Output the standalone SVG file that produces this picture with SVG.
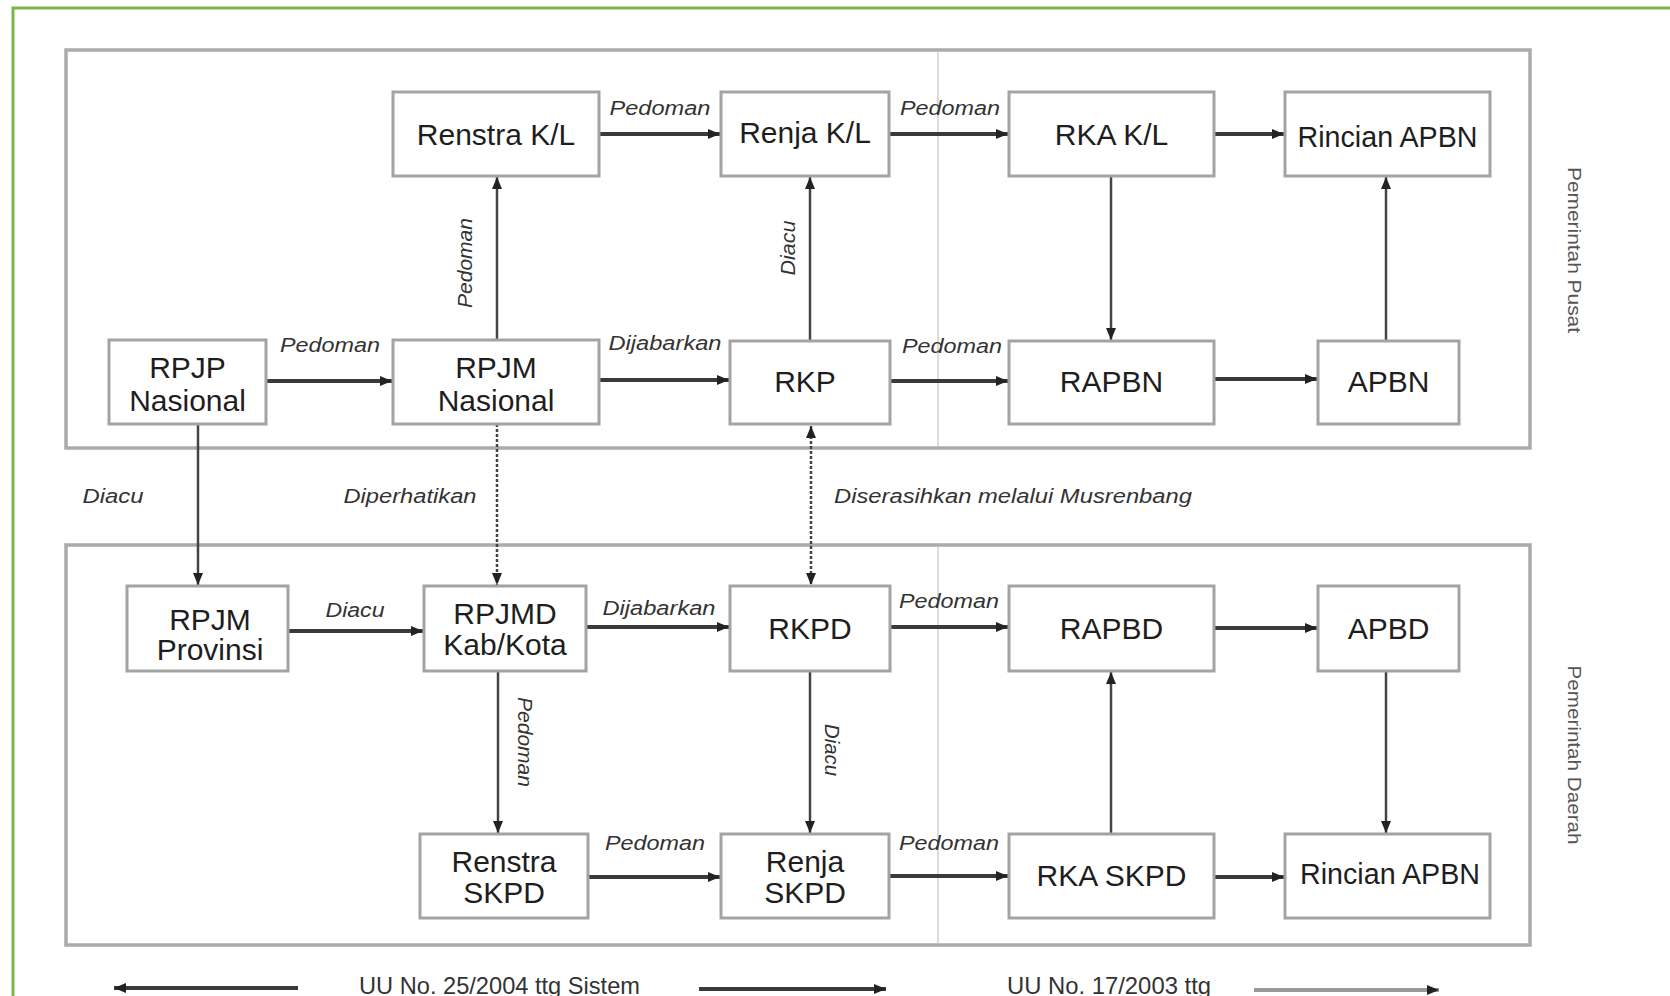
<svg xmlns="http://www.w3.org/2000/svg" width="1670" height="996" viewBox="0 0 1670 996">
<defs>
<style>
.box{fill:#fff;stroke:#a3a3a3;stroke-width:3}
.panel{fill:none;stroke:#ababab;stroke-width:3.5}
.t{font-family:"Liberation Sans",Arial,sans-serif;font-size:30px;fill:#1e1e1e;text-anchor:middle}
.lb{font-family:"Liberation Sans",Arial,sans-serif;font-size:20px;font-style:italic;fill:#333;text-anchor:middle}
.side{font-family:"Liberation Sans",Arial,sans-serif;font-size:18px;fill:#555;text-anchor:middle}
.foot{font-family:"Liberation Sans",Arial,sans-serif;font-size:24px;fill:#333}
.h{stroke:#3a3a3a;stroke-width:4;fill:none;marker-end:url(#ah)}
.v{stroke:#444;stroke-width:2.5;fill:none;marker-end:url(#ah)}
.d{stroke:#444;stroke-width:2.5;fill:none;stroke-dasharray:3 2;marker-end:url(#ah)}
</style>
<marker id="ah" viewBox="0 0 12 10" refX="12" refY="5" markerWidth="12" markerHeight="10" markerUnits="userSpaceOnUse" orient="auto-start-reverse">
<path d="M0,0 L12,5 L0,10 z" fill="#222"/>
</marker>
</defs>
<rect width="1670" height="996" fill="#fff"/>
<path d="M13,996 V8 H1670" fill="none" stroke="#7ab648" stroke-width="3"/>

<g id="panels">
<rect class="panel" x="66" y="50" width="1464" height="398"/>
<rect class="panel" x="66" y="545" width="1464" height="400"/>
<line x1="938" y1="52" x2="938" y2="446" stroke="#dcdcdc" stroke-width="2"/>
<line x1="938" y1="547" x2="938" y2="943" stroke="#dcdcdc" stroke-width="2"/>
</g>

<g id="connectors">
<line class="h" x1="599" y1="134" x2="720" y2="134"/>
<line class="h" x1="889" y1="134" x2="1008" y2="134"/>
<line class="h" x1="1214" y1="134" x2="1284" y2="134"/>
<line class="h" x1="266" y1="381" x2="392" y2="381"/>
<line class="h" x1="599" y1="380" x2="729" y2="380"/>
<line class="h" x1="890" y1="381" x2="1008" y2="381"/>
<line class="h" x1="1214" y1="379" x2="1317" y2="379"/>
<line class="v" x1="497" y1="340" x2="497" y2="177"/>
<line class="v" x1="810" y1="341" x2="810" y2="177"/>
<line class="v" x1="1111" y1="176" x2="1111" y2="340"/>
<line class="v" x1="1386" y1="341" x2="1386" y2="177"/>
<line class="v" x1="198" y1="424" x2="198" y2="585"/>
<line class="d" x1="497" y1="424" x2="497" y2="585"/>
<line class="d" x1="811" y1="426" x2="811" y2="585" style="marker-start:url(#ah)"/>
<line class="h" x1="288" y1="631" x2="423" y2="631"/>
<line class="h" x1="586" y1="627" x2="729" y2="627"/>
<line class="h" x1="890" y1="627" x2="1008" y2="627"/>
<line class="h" x1="1214" y1="628" x2="1317" y2="628"/>
<line class="v" x1="498" y1="671" x2="498" y2="833"/>
<line class="v" x1="810" y1="671" x2="810" y2="833"/>
<line class="v" x1="1111" y1="834" x2="1111" y2="672"/>
<line class="v" x1="1386" y1="671" x2="1386" y2="833"/>
<line class="h" x1="588" y1="877" x2="720" y2="877"/>
<line class="h" x1="889" y1="876" x2="1008" y2="876"/>
<line class="h" x1="1214" y1="877" x2="1284" y2="877"/>
<line class="h" x1="298" y1="988" x2="114" y2="988"/>
<line class="h" x1="699" y1="989" x2="886" y2="989"/>
<line class="h" x1="1254" y1="990" x2="1439" y2="990" style="stroke:#9a9a9a"/>
</g>

<g id="edge-labels">
<text class="lb" x="660" y="115" textLength="101" lengthAdjust="spacingAndGlyphs">Pedoman</text>
<text class="lb" x="950" y="115" textLength="100" lengthAdjust="spacingAndGlyphs">Pedoman</text>
<text class="lb" x="330" y="352" textLength="100" lengthAdjust="spacingAndGlyphs">Pedoman</text>
<text class="lb" x="665" y="350" textLength="113" lengthAdjust="spacingAndGlyphs">Dijabarkan</text>
<text class="lb" x="952" y="353" textLength="100" lengthAdjust="spacingAndGlyphs">Pedoman</text>
<text class="lb" transform="translate(466,263) rotate(-90)" y="6" textLength="90" lengthAdjust="spacingAndGlyphs">Pedoman</text>
<text class="lb" transform="translate(789,248) rotate(-90)" y="6" textLength="55" lengthAdjust="spacingAndGlyphs">Diacu</text>
<text class="lb" x="113" y="503" textLength="61" lengthAdjust="spacingAndGlyphs">Diacu</text>
<text class="lb" x="410" y="503" textLength="133" lengthAdjust="spacingAndGlyphs">Diperhatikan</text>
<text class="lb" x="1013" y="503" textLength="358" lengthAdjust="spacingAndGlyphs">Diserasihkan melalui Musrenbang</text>
<text class="lb" x="355" y="617" textLength="59" lengthAdjust="spacingAndGlyphs">Diacu</text>
<text class="lb" x="659" y="615" textLength="113" lengthAdjust="spacingAndGlyphs">Dijabarkan</text>
<text class="lb" x="949" y="608" textLength="100" lengthAdjust="spacingAndGlyphs">Pedoman</text>
<text class="lb" transform="translate(524,742) rotate(90)" y="6" textLength="90" lengthAdjust="spacingAndGlyphs">Pedoman</text>
<text class="lb" transform="translate(831,750) rotate(90)" y="6" textLength="52" lengthAdjust="spacingAndGlyphs">Diacu</text>
<text class="lb" x="655" y="850" textLength="100" lengthAdjust="spacingAndGlyphs">Pedoman</text>
<text class="lb" x="949" y="850" textLength="100" lengthAdjust="spacingAndGlyphs">Pedoman</text>
</g>

<g id="side-labels">
<text class="side" transform="translate(1574,250) rotate(90)" y="6" textLength="166" lengthAdjust="spacingAndGlyphs">Pemerintah Pusat</text>
<text class="side" transform="translate(1574,755) rotate(90)" y="6" textLength="179" lengthAdjust="spacingAndGlyphs">Pemerintah Daerah</text>
</g>

<g id="footer">
<text class="foot" x="359" y="994" textLength="281" lengthAdjust="spacingAndGlyphs">UU No. 25/2004 ttg Sistem</text>
<text class="foot" x="1007" y="994" textLength="204" lengthAdjust="spacingAndGlyphs">UU No. 17/2003 ttg</text>
</g>

<g id="renstra-kl"><rect class="box" x="393" y="92" width="206" height="84"/><text class="t" x="496" y="145">Renstra K/L</text></g>
<g id="renja-kl"><rect class="box" x="721" y="92" width="168" height="84"/><text class="t" x="805" y="143">Renja K/L</text></g>
<g id="rka-kl"><rect class="box" x="1009" y="92" width="205" height="84"/><text class="t" x="1111.5" y="145">RKA K/L</text></g>
<g id="rincian-apbn-1"><rect class="box" x="1285" y="92" width="205" height="84"/><text class="t" x="1387.5" y="147" textLength="180" lengthAdjust="spacingAndGlyphs">Rincian APBN</text></g>

<g id="rpjp-nasional"><rect class="box" x="109" y="340" width="157" height="84"/><text class="t" x="187.5" y="378">RPJP</text><text class="t" x="187.5" y="411">Nasional</text></g>
<g id="rpjm-nasional"><rect class="box" x="393" y="340" width="206" height="84"/><text class="t" x="496" y="378">RPJM</text><text class="t" x="496" y="411">Nasional</text></g>
<g id="rkp"><rect class="box" x="730" y="341" width="160" height="83"/><text class="t" x="805" y="392">RKP</text></g>
<g id="rapbn"><rect class="box" x="1009" y="341" width="205" height="83"/><text class="t" x="1111.5" y="392">RAPBN</text></g>
<g id="apbn"><rect class="box" x="1318" y="341" width="141" height="83"/><text class="t" x="1388.5" y="392">APBN</text></g>

<g id="rpjm-provinsi"><rect class="box" x="127" y="586" width="161" height="85"/><text class="t" x="210" y="630">RPJM</text><text class="t" x="210" y="660">Provinsi</text></g>
<g id="rpjmd-kabkota"><rect class="box" x="424" y="586" width="162" height="85"/><text class="t" x="505" y="624">RPJMD</text><text class="t" x="505" y="655">Kab/Kota</text></g>
<g id="rkpd"><rect class="box" x="730" y="586" width="160" height="85"/><text class="t" x="810" y="639">RKPD</text></g>
<g id="rapbd"><rect class="box" x="1009" y="586" width="205" height="85"/><text class="t" x="1111.5" y="639">RAPBD</text></g>
<g id="apbd"><rect class="box" x="1318" y="586" width="141" height="85"/><text class="t" x="1388.5" y="639">APBD</text></g>

<g id="renstra-skpd"><rect class="box" x="420" y="834" width="168" height="84"/><text class="t" x="504" y="872">Renstra</text><text class="t" x="504" y="903">SKPD</text></g>
<g id="renja-skpd"><rect class="box" x="721" y="834" width="168" height="84"/><text class="t" x="805" y="872">Renja</text><text class="t" x="805" y="903">SKPD</text></g>
<g id="rka-skpd"><rect class="box" x="1009" y="834" width="205" height="84"/><text class="t" x="1111.5" y="886">RKA SKPD</text></g>
<g id="rincian-apbn-2"><rect class="box" x="1285" y="834" width="205" height="84"/><text class="t" x="1390" y="884" textLength="180" lengthAdjust="spacingAndGlyphs">Rincian APBN</text></g>
</svg>
